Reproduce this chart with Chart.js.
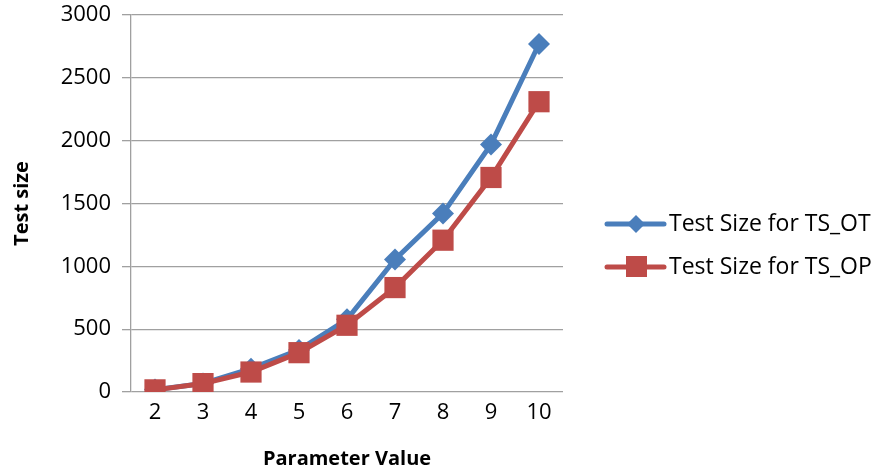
<!DOCTYPE html>
<html>
<head>
<meta charset="utf-8">
<script src="https://cdn.jsdelivr.net/npm/chart.js@4"></script>
<style>
  html, body { margin: 0; padding: 0; background: #fff; }
  #wrap { width: 893px; height: 473px; }
</style>
</head>
<body>
<div id="wrap"><canvas id="chart" width="893" height="473"></canvas></div>
<script>
// Data
var paramValues = ["2", "3", "4", "5", "6", "7", "8", "9", "10"];
var sizeOT = [19, 68, 186, 335, 578, 1054, 1421, 1970, 2769];
var sizeOP = [17, 67, 159, 313, 531, 831, 1208, 1707, 2310];
var yTicks = [0, 500, 1000, 1500, 2000, 2500, 3000];

var FONT = "'Open Sans', sans-serif";

// legend drawn at the right, line + marker like the original
var sideLegend = {
    id: "sideLegend",
    afterDraw: function (chart) {
        var ctx = chart.ctx;
        var rows = [224, 267];
        chart.data.datasets.forEach(function (ds, i) {
            var y = rows[i];
            ctx.save();
            ctx.strokeStyle = ds.borderColor;
            ctx.lineWidth = 5;
            ctx.lineCap = "round";
            ctx.beginPath();
            ctx.moveTo(607, y);
            ctx.lineTo(664, y);
            ctx.stroke();
            ctx.fillStyle = ds.backgroundColor;
            ctx.beginPath();
            if (ds.pointStyle === "rectRot") {
                ctx.moveTo(636, y - 9);
                ctx.lineTo(645, y);
                ctx.lineTo(636, y + 9);
                ctx.lineTo(627, y);
            } else {
                ctx.rect(626, y - 11, 21, 21);
            }
            ctx.closePath();
            ctx.fill();
            ctx.fillStyle = "#000";
            ctx.font = "23px " + FONT;
            ctx.textBaseline = "middle";
            ctx.fillText(ds.label, 669, y);
            ctx.restore();
        });
    }
};

var ctx = document.getElementById("chart").getContext("2d");
var chart = new Chart(ctx, {
    type: "line",
    data: {
        labels: paramValues,
        datasets: [{
            label: "Test Size for TS_OT",
            data: sizeOT,
            order: 1,
            borderColor: "#4A7EBB",
            backgroundColor: "#4A7EBB",
            borderWidth: 5,
            pointStyle: "rectRot",
            pointRadius: 11,
            pointBorderWidth: 0,
            tension: 0
        }, {
            label: "Test Size for TS_OP",
            data: sizeOP,
            order: 0,
            borderColor: "#BE4B48",
            backgroundColor: "#BE4B48",
            borderWidth: 5,
            pointStyle: "rect",
            pointRadius: 15,
            pointBorderWidth: 0,
            tension: 0
        }]
    },
    options: {
        responsive: false,
        animation: false,
        layout: { padding: { top: 15, right: 330, left: 0, bottom: 0 } },
        plugins: {
            legend: { display: false },
            tooltip: { enabled: false }
        },
        scales: {
            x: {
                offset: true,
                grid: { display: false },
                border: { display: false },
                ticks: { color: "#000", font: { family: FONT, size: 22 }, padding: 0 },
                title: {
                    display: true,
                    text: "Parameter Value",
                    color: "#000",
                    font: { family: FONT, size: 20, weight: "bold" },
                    padding: { top: 0, bottom: 2 }
                },
                afterFit: function (scale) { scale.height = 81; }
            },
            y: {
                min: 0,
                max: 3000,
                afterBuildTicks: function (scale) {
                    scale.ticks = yTicks.map(function (v) { return { value: v }; });
                },
                grid: { color: "#A0A0A0", lineWidth: 1.3, tickLength: 9 },
                border: { color: "#A0A0A0", width: 1.3 },
                ticks: {
                    color: "#000",
                    font: { family: FONT, size: 22 },
                    padding: 11,
                    callback: function (v) { return String(v); }
                },
                title: {
                    display: true,
                    text: "Test size",
                    color: "#000",
                    font: { family: FONT, size: 20, weight: "bold" },
                    padding: { top: 10, bottom: 0 }
                },
                afterFit: function (scale) {
                    scale.width = 131;
                    scale.paddingTop = 0;
                    scale.paddingBottom = 0;
                }
            }
        }
    },
    plugins: [sideLegend]
});
</script>
</body>
</html>
